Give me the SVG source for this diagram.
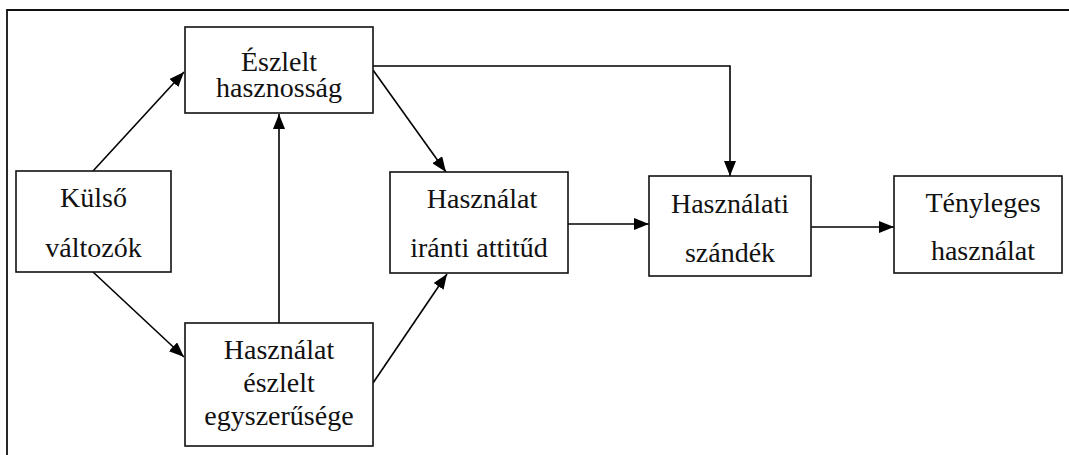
<svg xmlns="http://www.w3.org/2000/svg" width="1069" height="455" viewBox="0 0 1069 455">
  <defs>
    <marker id="arrow" viewBox="0 0 15 12" refX="15" refY="6" markerWidth="15" markerHeight="12" markerUnits="userSpaceOnUse" orient="auto">
      <path d="M0,0 L15,6 L0,12 Z" fill="#000"/>
    </marker>
  </defs>
  <style>
    .box { fill: #fff; stroke: #111; stroke-width: 1.6; }
    .frame { fill: none; stroke: #111; stroke-width: 1.8; }
    .lbl { font-family: "Liberation Serif", "Times New Roman", serif; font-size: 28px; fill: #111; text-anchor: middle; }
    .edge { fill: none; stroke: #000; stroke-width: 1.6; }
    .edge.arr { marker-end: url(#arrow); }
  </style>
  <rect x="0" y="0" width="1069" height="455" fill="#fff"/>
  <path class="frame" d="M7,460 L7,10 L1075,10"/>

  <g id="connectors">
    <line class="edge arr" x1="93" y1="171" x2="184" y2="72"/>
    <line class="edge arr" x1="93" y1="272" x2="184" y2="357"/>
    <line class="edge arr" x1="279" y1="323" x2="279" y2="114"/>
    <line class="edge arr" x1="373" y1="383" x2="447" y2="274"/>
    <line class="edge arr" x1="373" y1="70" x2="446" y2="172"/>
    <polyline class="edge arr" points="373,66 730,66 730,176"/>
    <line class="edge arr" x1="568" y1="224" x2="649" y2="224"/>
    <line class="edge arr" x1="811" y1="227" x2="894" y2="227"/>
  </g>

  <g id="eszlelt-hasznossag">
    <rect class="box" x="185" y="27" width="188" height="86"/>
    <text class="lbl" x="279" y="71">Észlelt</text>
    <text class="lbl" x="279" y="97">hasznosság</text>
  </g>

  <g id="kulso-valtozok">
    <rect class="box" x="16" y="171" width="155" height="101"/>
    <text class="lbl" x="93.5" y="207">Külső</text>
    <text class="lbl" x="93.5" y="257">változók</text>
  </g>

  <g id="eszlelt-egyszeruseg">
    <rect class="box" x="185" y="323" width="188" height="123"/>
    <text class="lbl" x="279" y="359">Használat</text>
    <text class="lbl" x="279" y="392">észlelt</text>
    <text class="lbl" x="279" y="425">egyszerűsége</text>
  </g>

  <g id="attitud">
    <rect class="box" x="390" y="172" width="178" height="101"/>
    <text class="lbl" x="482" y="208">Használat</text>
    <text class="lbl" x="479" y="257">iránti attitűd</text>
  </g>

  <g id="szandek">
    <rect class="box" x="649" y="176" width="162" height="100"/>
    <text class="lbl" x="730" y="213">Használati</text>
    <text class="lbl" x="730" y="262">szándék</text>
  </g>

  <g id="tenyleges-hasznalat">
    <rect class="box" x="894" y="176" width="168" height="97"/>
    <text class="lbl" x="983" y="212">Tényleges</text>
    <text class="lbl" x="983" y="260">használat</text>
  </g>
</svg>
